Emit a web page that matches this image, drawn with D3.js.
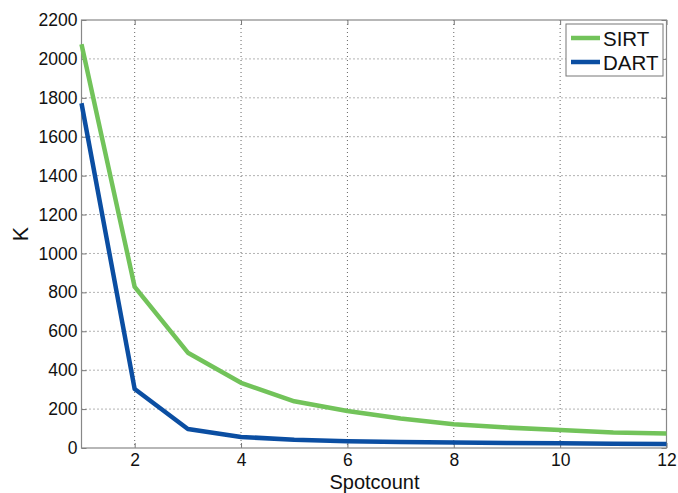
<!DOCTYPE html>
<html lang="en">
<head>
  <meta charset="UTF-8">
  <title>SIRT vs DART</title>
  <script src="https://d3js.org/d3.v7.min.js"></script>
  <style>
    body, html { margin: 0; padding: 0; background: #fff; }
    svg { display: block; font-family: "Liberation Sans", Arial, sans-serif; }
    .grid line { stroke: #666; stroke-width: 1; stroke-dasharray: 1,3; }
  </style>
</head>
<body>
  <svg id="chart" width="678" height="493"></svg>
  <script>
    // data
    const spotcount = [1, 2, 3, 4, 5, 6, 7, 8, 9, 10, 11, 12];
    const sirt = [2075, 828, 490, 335, 240, 190, 152, 122, 105, 92, 80, 75];
    const dart = [1772, 303, 98, 57, 42, 35, 31, 28, 26, 24, 22, 21];
    const xTicks = [2, 4, 6, 8, 10, 12];
    const yTicks = d3.range(0, 2201, 200);
    const seriesNames = ["SIRT", "DART"];
    const seriesColors = ["#72c35a", "#0b4ea2"];

    const svg = d3.select("#chart");
    const plotL = 81.5, plotR = 666.5, plotT = 20, plotB = 448;

    const x = d3.scaleLinear().domain([1, 12]).range([plotL, plotR]);
    const y = d3.scaleLinear().domain([0, 2200]).range([plotB, plotT]);

    // grid
    const grid = svg.append("g").attr("class", "grid");
    grid.selectAll(".gx").data(xTicks.filter(d => d < 12)).enter().append("line")
      .attr("x1", d => x(d)).attr("x2", d => x(d)).attr("y1", plotT).attr("y2", plotB);
    grid.selectAll(".gy").data(yTicks.filter(d => d > 0 && d < 2200)).enter().append("line")
      .attr("x1", plotL).attr("x2", plotR).attr("y1", d => y(d)).attr("y2", d => y(d));

    // axes with inward ticks
    const tick = 5;
    const fmt = d3.format("d");
    svg.append("g").attr("transform", `translate(0,${plotB})`)
      .call(d3.axisBottom(x).tickValues(xTicks).tickSize(-tick).tickPadding(6).tickFormat(fmt))
      .call(g => g.select(".domain").remove());
    svg.append("g").attr("transform", `translate(${plotL},0)`)
      .call(d3.axisLeft(y).tickValues(yTicks).tickSize(-tick).tickPadding(4).tickFormat(fmt))
      .call(g => g.select(".domain").remove());
    svg.append("g").attr("transform", `translate(0,${plotT})`)
      .call(d3.axisTop(x).tickValues(xTicks).tickSize(-tick).tickFormat(""))
      .call(g => g.select(".domain").remove());
    svg.append("g").attr("transform", `translate(${plotR},0)`)
      .call(d3.axisRight(y).tickValues(yTicks).tickSize(-tick).tickFormat(""))
      .call(g => g.select(".domain").remove());

    svg.selectAll(".tick line").attr("stroke", "#777");
    svg.selectAll(".tick text").attr("font-size", 17.5).attr("fill", "#111")
      .attr("font-family", "Liberation Sans, Arial, sans-serif");

    svg.append("rect")
      .attr("x", plotL).attr("y", plotT)
      .attr("width", plotR - plotL).attr("height", plotB - plotT)
      .attr("fill", "none").attr("stroke", "#888").attr("stroke-width", 1.2);

    // lines
    const line = d3.line().x((d, i) => x(spotcount[i])).y(d => y(d));
    [sirt, dart].forEach((vals, k) => {
      svg.append("path").datum(vals)
        .attr("d", line)
        .attr("fill", "none")
        .attr("stroke", seriesColors[k])
        .attr("stroke-width", 4.5)
        .attr("stroke-linejoin", "round");
    });

    // axis titles
    svg.append("text").attr("x", 374.5).attr("y", 489)
      .attr("text-anchor", "middle").attr("font-size", 20).attr("fill", "#111")
      .text("Spotcount");
    svg.append("text").attr("transform", `translate(28,234) rotate(-90)`)
      .attr("text-anchor", "middle").attr("font-size", 21.5).attr("fill", "#111")
      .text("K");

    // legend
    const lg = svg.append("g").attr("transform", "translate(566,24)");
    lg.append("rect").attr("width", 97).attr("height", 52)
      .attr("fill", "#fff").attr("stroke", "#777").attr("stroke-width", 1);
    seriesNames.forEach((name, k) => {
      const cy = 14 + k * 24;
      lg.append("line").attr("x1", 5).attr("x2", 34).attr("y1", cy).attr("y2", cy)
        .attr("stroke", seriesColors[k]).attr("stroke-width", 4.5);
      lg.append("text").attr("x", 37).attr("y", cy + 7.5)
        .attr("font-size", 20.5).attr("fill", "#111").text(name);
    });
  </script>
</body>
</html>
